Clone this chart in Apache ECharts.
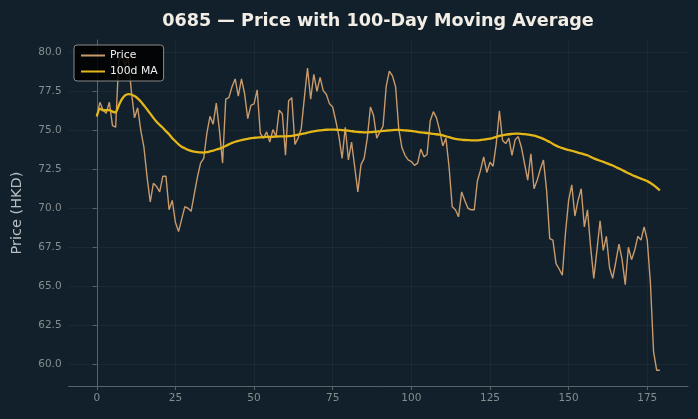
<!DOCTYPE html>
<html>
<head>
<meta charset="utf-8">
<script src="https://cdn.jsdelivr.net/npm/echarts@6/dist/echarts.min.js"></script>
<style>
  html, body { margin: 0; padding: 0; background: #11202a; }
  #chart { width: 698px; height: 419px; }
</style>
</head>
<body>
<div id="chart"></div>
<script>
// closing prices, one per trading day (index 0..179)
const price = [
  75.9, 76.8, 76.3, 76.1, 76.8, 75.3, 75.2, 79.5, 79.8, 79.2,
  79.7, 77.5, 75.8, 76.45, 75.0, 73.9, 72.0, 70.4, 71.6, 71.4,
  71.05, 72.05, 72.05, 69.9, 70.5, 69.1, 68.5, 69.3, 70.1, 70.0,
  69.8, 70.9, 72.0, 72.9, 73.2, 74.8, 75.9, 75.4, 76.75, 75.0,
  72.9, 77.0, 77.1, 77.8, 78.3, 77.2, 78.3, 77.35, 75.75, 76.6,
  76.7, 77.6, 74.8, 74.5, 74.9, 74.25, 75.05, 74.6, 76.3, 76.05,
  73.4, 76.9, 77.1, 74.1, 74.5, 75.1, 77.1, 79.0, 77.0, 78.6,
  77.5, 78.4, 77.55, 77.3, 76.7, 76.5, 75.6, 74.6, 73.2, 75.2,
  73.1, 74.25, 72.65, 71.05, 72.8, 73.2, 74.5, 76.5, 75.95, 74.5,
  74.9, 75.25, 77.8, 78.8, 78.5, 77.8, 75.1, 73.9, 73.4, 73.1,
  73.0, 72.75, 72.9, 73.8, 73.3, 73.45, 75.6, 76.2, 75.8, 75.0,
  74.0, 74.5, 72.65, 70.1, 69.9, 69.45, 71.05, 70.5, 70.0, 69.9,
  69.9, 71.75, 72.45, 73.3, 72.3, 72.95, 72.7, 74.15, 76.25, 74.35,
  74.15, 74.5, 73.4, 74.4, 74.6, 73.9, 72.85, 71.8, 73.5, 71.25,
  71.8, 72.5, 73.1, 71.15, 68.05, 67.95, 66.45, 66.1, 65.7, 68.4,
  70.5, 71.5, 69.5, 70.5, 71.25, 68.8, 69.9, 67.5, 65.5, 67.3,
  69.2, 67.3, 68.2, 66.2, 65.5, 66.55, 67.7, 66.7, 65.1, 67.5,
  66.7, 67.3, 68.2, 67.95, 68.8, 67.95, 65.2, 60.8, 59.6, 59.6
]

// 100-day moving average
const ma100 = [
  75.9, 76.4, 76.28, 76.3, 76.3, 76.2, 76.15, 76.6, 77.0, 77.24,
  77.33, 77.3, 77.2, 77.05, 76.85, 76.6, 76.35, 76.07, 75.8, 75.55,
  75.35, 75.17, 74.95, 74.75, 74.5, 74.3, 74.1, 73.95, 73.85, 73.75,
  73.68, 73.63, 73.6, 73.58, 73.57, 73.6, 73.65, 73.7, 73.77, 73.83,
  73.9, 74.0, 74.1, 74.2, 74.27, 74.33, 74.38, 74.42, 74.46, 74.5,
  74.52, 74.54, 74.55, 74.57, 74.58, 74.58, 74.59, 74.6, 74.61, 74.62,
  74.62, 74.63, 74.65, 74.68, 74.72, 74.76, 74.8, 74.85, 74.9, 74.94,
  74.97, 75.0, 75.02, 75.04, 75.05, 75.05, 75.04, 75.03, 75.02, 75.0,
  74.98, 74.95, 74.92, 74.9, 74.88, 74.87, 74.87, 74.88, 74.9, 74.92,
  74.94, 74.96, 74.98, 75.0, 75.02, 75.03, 75.03, 75.02, 75.0, 74.98,
  74.96, 74.93, 74.9, 74.87, 74.85, 74.83, 74.8, 74.77, 74.75, 74.72,
  74.68, 74.62, 74.56, 74.5, 74.45, 74.42, 74.4, 74.38, 74.37, 74.36,
  74.36, 74.36, 74.38, 74.4, 74.43, 74.47, 74.52, 74.58, 74.64, 74.68,
  74.72, 74.75, 74.77, 74.79, 74.79, 74.78, 74.76, 74.73, 74.7, 74.66,
  74.6, 74.53, 74.45, 74.35, 74.25, 74.13, 74.02, 73.93, 73.86, 73.8,
  73.74, 73.69, 73.63, 73.57, 73.52, 73.46, 73.4, 73.3, 73.2, 73.12,
  73.05, 72.98, 72.9, 72.82, 72.74, 72.65, 72.55, 72.45, 72.35, 72.25,
  72.15, 72.06, 71.98, 71.9, 71.82, 71.74, 71.62, 71.48, 71.32, 71.15
]

const xTicks = [0, 25, 50, 75, 100, 125, 150, 175]
const yTicks = [60, 62.5, 65, 67.5, 70, 72.5, 75, 77.5, 80]

const chart = echarts.init(document.getElementById('chart'))

const font = 'DejaVu Sans'
const axisColor = '#5a6368'
const labelColor = '#858d91'
const gridColor = 'rgba(255,255,255,0.045)'
const priceColor = '#c99a6c'
const maColor = '#e4b61a'

const option = {
  backgroundColor: '#11202a',
  animation: false,
  title: {
    text: '0685 — Price with 100-Day Moving Average',
    left: 373,
    textAlign: 'center',
    top: 7,
    textStyle: { fontFamily: font, fontSize: 17.6, fontWeight: 'bold', color: '#f2eee6' }
  },
  legend: {
    left: 74,
    top: 45,
    orient: 'vertical',
    backgroundColor: 'rgba(0,0,0,0.85)',
    borderColor: '#8a8a8a',
    borderWidth: 1,
    borderRadius: 3,
    padding: [5, 6, 4, 6],
    itemGap: 5,
    itemWidth: 24,
    itemHeight: 8,
    itemStyle: { opacity: 0 },
    textStyle: { fontFamily: font, fontSize: 10.8, color: '#f0f0f0' },
    data: ['Price', '100d MA']
  },
  grid: { left: 68.6, right: 10, top: 40, bottom: 33 },
  xAxis: {
    type: 'value',
    min: -8.95,
    max: 187.95,
    axisLine: { show: true, lineStyle: { color: axisColor, width: 1 } },
    axisTick: { show: true, length: 4, lineStyle: { color: axisColor }, customValues: xTicks },
    axisLabel: { color: labelColor, fontFamily: font, fontSize: 10.5, margin: 7, customValues: xTicks },
    splitLine: { show: true, lineStyle: { color: gridColor, width: 1 } }
  },
  yAxis: {
    type: 'value',
    min: 58.59,
    max: 80.8,
    name: 'Price (HKD)',
    nameLocation: 'middle',
    nameGap: 44,
    nameTextStyle: { fontFamily: font, fontSize: 14.5, color: '#b9bfc2' },
    axisLine: { show: true, lineStyle: { color: axisColor, width: 1 } },
    axisTick: { show: true, length: 4, lineStyle: { color: axisColor }, customValues: yTicks },
    axisLabel: {
      color: labelColor, fontFamily: font, fontSize: 10.5, margin: 7,
      customValues: yTicks,
      formatter: v => v.toFixed(1)
    },
    splitLine: { show: true, lineStyle: { color: gridColor, width: 1 } }
  },
  series: [
    {
      name: 'Price',
      type: 'line',
      data: price.map((v, i) => [i, v]),
      showSymbol: false,
      symbol: 'none',
      lineStyle: { color: priceColor, width: 1.4 },
      itemStyle: { color: priceColor },
      z: 2
    },
    {
      name: '100d MA',
      type: 'line',
      data: ma100.map((v, i) => [i, v]),
      showSymbol: false,
      symbol: 'none',
      smooth: 0.2,
      lineStyle: { color: maColor, width: 2.3 },
      itemStyle: { color: maColor },
      z: 3
    }
  ]
}

chart.setOption(option)
</script>
</body>
</html>
